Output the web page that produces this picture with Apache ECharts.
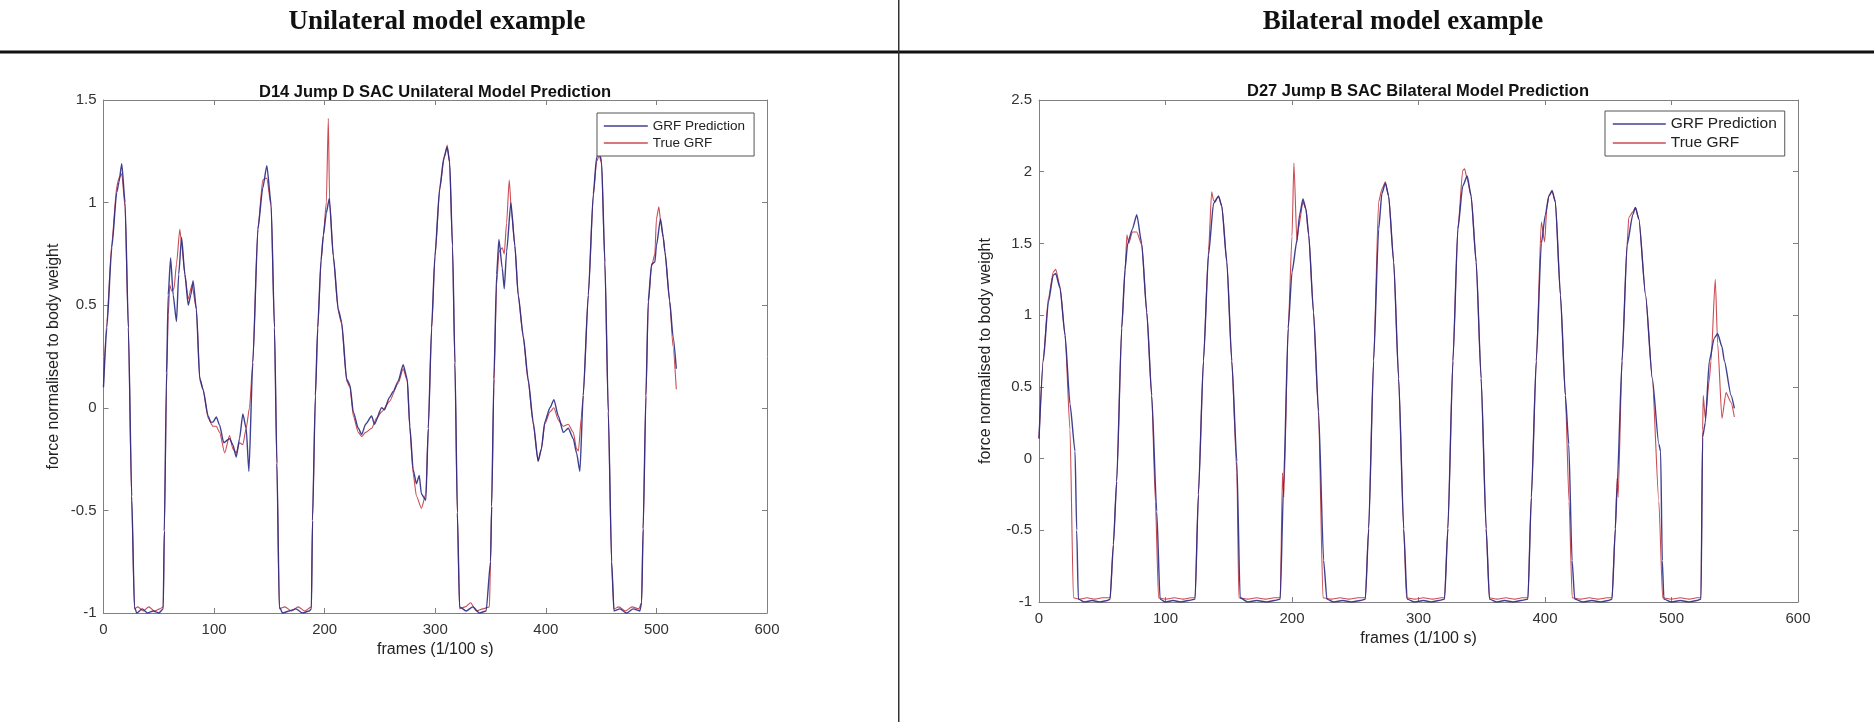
<!DOCTYPE html>
<html lang="en">
<head>
<meta charset="UTF-8">
<title>GRF model prediction examples</title>
<style>
  html, body { margin: 0; padding: 0; background: #fff; }
  #chart { width: 1874px; height: 722px; }
</style>
<script src="https://cdn.jsdelivr.net/npm/echarts@6/dist/echarts.min.js"></script>
</head>
<body>
<div id="chart"></div>
<script>
// [frame, force] pairs
var uniPred = [[0,0.10],[3,0.39],[7.5,0.78],[12,1.05],[14,1.10],[16.5,1.19],[19.5,1.0],[22.5,0.39],[25.5,-0.43],[28,-0.97],[30,-1.0],[35,-0.98],[40,-1.0],[45,-0.99],[50,-1.0],[54,-0.98],[55,-0.6],[57,0.17],[58.5,0.55],[60.7,0.73],[63,0.55],[66,0.42],[68,0.65],[70.6,0.83],[73.6,0.65],[76.6,0.5],[79,0.55],[81,0.62],[84,0.48],[87,0.14],[90,0.09],[94.6,-0.04],[97,-0.07],[99,-0.07],[102,-0.045],[105,-0.085],[108.7,-0.17],[114,-0.15],[117,-0.18],[120,-0.24],[123,-0.15],[126,-0.03],[129,-0.1],[131.5,-0.31],[135,0.22],[139.6,0.87],[144,1.07],[147.7,1.18],[151.6,0.99],[154.6,0.39],[156.8,-0.27],[159,-0.97],[162,-1.0],[168,-0.99],[174,-0.98],[180,-1.0],[186,-0.99],[188,-0.98],[189,-0.55],[191.6,0.06],[193.7,0.39],[196.7,0.72],[198.8,0.84],[201.5,0.95],[204.2,1.02],[207.8,0.74],[212.3,0.48],[215.3,0.42],[219.9,0.14],[222.9,0.11],[225.9,-0.02],[230.4,-0.1],[233.5,-0.13],[237,-0.08],[242.5,-0.04],[245,-0.08],[251.5,0.0],[254,-0.01],[258.5,0.05],[262,0.08],[266.5,0.13],[271,0.21],[274.7,0.14],[277,-0.09],[280,-0.3],[283,-0.37],[285.5,-0.33],[287.5,-0.42],[291.5,-0.45],[293.7,-0.1],[296.7,0.39],[299.7,0.74],[304,1.07],[307.8,1.22],[310.8,1.27],[313,1.2],[315.6,0.79],[317.8,0.22],[320,-0.51],[322,-0.97],[328,-0.99],[334,-0.97],[340,-1.0],[346,-0.99],[350,-0.75],[351,-0.48],[353,0.14],[355.5,0.65],[357.6,0.82],[360.6,0.68],[362.4,0.58],[364.5,0.76],[368.4,1.0],[372,0.79],[375,0.55],[379.6,0.35],[384,0.14],[388.6,-0.07],[393,-0.26],[396,-0.2],[399,-0.07],[403.7,0.0],[407.3,0.04],[411.3,-0.04],[415.8,-0.12],[420.3,-0.1],[424.8,-0.15],[427.8,-0.22],[430.8,-0.31],[433.8,0.06],[438.4,0.55],[442.9,1.04],[445.9,1.22],[448.3,1.25],[450.4,1.2],[453.4,0.71],[456.5,-0.02],[459.5,-0.75],[461.6,-0.99],[467,-0.98],[473,-1.0],[479,-0.98],[485,-0.99],[486.6,-0.95],[488,-0.59],[490.5,0.06],[492.6,0.52],[495.6,0.70],[498.6,0.71],[500,0.79],[503.7,0.92],[506.2,0.83],[507.7,0.76],[512,0.52],[515,0.35],[518,0.19]];

var uniTrue = [[0,0.12],[3,0.42],[7.5,0.8],[12,1.08],[14,1.12],[16.5,1.14],[19.5,0.98],[22.5,0.38],[25.5,-0.45],[28,-0.98],[31,-0.97],[36,-0.99],[41,-0.97],[46,-0.99],[51,-0.98],[54,-0.97],[55,-0.6],[57,0.1],[58.5,0.45],[60,0.6],[61.5,0.57],[63.7,0.58],[66,0.7],[69,0.87],[70.6,0.8],[73.6,0.65],[76.6,0.53],[80,0.6],[84,0.48],[87,0.15],[90,0.09],[94.6,-0.05],[99,-0.09],[102,-0.09],[105,-0.12],[109.6,-0.22],[114,-0.135],[117,-0.2],[120,-0.22],[123,-0.17],[126,-0.18],[129,-0.1],[132,0.0],[135,0.22],[139.6,0.87],[144,1.11],[147.7,1.12],[151.6,0.98],[154.6,0.39],[156.8,-0.28],[159,-0.98],[164,-0.97],[170,-0.99],[176,-0.97],[182,-0.99],[188,-0.97],[189,-0.55],[191.6,0.05],[193.7,0.38],[196.7,0.71],[198.8,0.84],[201.5,1.0],[203.3,1.41],[204.5,1.0],[207.8,0.74],[212.3,0.47],[215.3,0.41],[219.9,0.13],[222.9,0.1],[225.9,-0.04],[230.4,-0.12],[233.5,-0.14],[237,-0.12],[242.5,-0.1],[247,-0.05],[251.5,-0.02],[258.5,0.03],[266.5,0.12],[271,0.19],[274.7,0.13],[277,-0.1],[280,-0.32],[283,-0.43],[287.5,-0.49],[291.5,-0.42],[293.7,-0.1],[296.7,0.38],[299.7,0.73],[304,1.06],[307.8,1.21],[310.8,1.28],[313,1.19],[315.6,0.78],[317.8,0.21],[320,-0.52],[322,-0.98],[327,-0.97],[332,-0.95],[337,-0.99],[343,-0.98],[349,-0.97],[350,-0.75],[351,-0.48],[353,0.1],[355.5,0.6],[357.6,0.76],[360.6,0.78],[362.4,0.75],[364.5,0.9],[366.9,1.11],[369,0.95],[372,0.79],[375,0.55],[379.6,0.34],[384,0.13],[388.6,-0.08],[393,-0.26],[396,-0.2],[399,-0.08],[403.7,-0.02],[407.3,0.0],[411.3,-0.06],[415.8,-0.09],[420.3,-0.08],[424.8,-0.12],[427.8,-0.2],[429.5,-0.21],[432,-0.05],[433.8,0.06],[438.4,0.55],[442.9,1.03],[445.9,1.2],[448.3,1.23],[450.4,1.19],[453.4,0.7],[456.5,-0.03],[459.5,-0.76],[461.6,-0.98],[466,-0.97],[472,-0.99],[478,-0.97],[484,-0.98],[486.6,-0.95],[488,-0.59],[490.5,0.05],[492.6,0.5],[495.6,0.69],[498.6,0.75],[500,0.92],[502.2,0.98],[504,0.9],[506.2,0.83],[507.7,0.76],[512,0.52],[515,0.3],[518,0.09]];

var biPred = [[0,0.14],[3.4,0.68],[7.4,1.09],[11.3,1.28],[13.2,1.29],[16.6,1.19],[20.6,0.86],[24.5,0.38],[28.5,0.05],[29.8,-0.5],[31.1,-0.98],[36,-1.0],[42,-0.99],[48,-1.0],[54,-0.99],[56.2,-0.98],[58.8,-0.6],[61.4,-0.16],[65.4,0.91],[68,1.32],[70.1,1.5],[73.8,1.6],[77.3,1.70],[81.2,1.5],[85.2,1.02],[89.1,0.44],[93.1,-0.37],[95.7,-0.98],[100,-1.0],[106,-0.99],[112,-1.0],[118,-0.99],[123.4,-0.98],[126,-0.25],[130,0.68],[134,1.42],[138,1.78],[141.9,1.83],[144.5,1.76],[148.5,1.37],[152.4,0.68],[156.4,-0.02],[159,-0.97],[165,-1.0],[172,-0.99],[180,-1.0],[186,-0.99],[190.7,-0.98],[193.3,-0.2],[197,0.91],[200,1.3],[203.9,1.52],[206,1.7],[208.7,1.81],[211,1.74],[213.2,1.56],[217,1.02],[221,0.33],[225,-0.71],[227.6,-0.98],[233,-1.0],[240,-0.99],[247,-1.0],[254,-0.99],[258,-0.98],[260.6,-0.49],[264.5,0.68],[268.5,1.6],[271.1,1.85],[273.8,1.92],[276.4,1.83],[280.4,1.37],[284.3,0.56],[288.3,-0.49],[291,-0.98],[297,-1.0],[304,-0.99],[310,-1.0],[316,-0.99],[320.6,-0.98],[323.2,-0.49],[327.2,0.68],[331.1,1.6],[335,1.9],[338.5,1.97],[341.6,1.83],[345.6,1.37],[349.5,0.56],[353.5,-0.49],[356.1,-0.98],[362,-1.0],[368,-0.99],[375,-1.0],[381,-0.99],[386.5,-0.98],[389.2,-0.27],[393.1,0.68],[397.1,1.5],[400.3,1.7],[403,1.83],[405.6,1.87],[408.2,1.79],[412.2,1.14],[416.1,0.44],[418.8,0.1],[421.4,-0.71],[423.5,-0.98],[430,-1.0],[437,-0.99],[444,-1.0],[450,-0.99],[453,-0.98],[455.6,-0.49],[457,-0.2],[460.9,0.68],[464.9,1.49],[469.4,1.7],[471.5,1.75],[474.2,1.67],[479.5,1.14],[484.8,0.56],[490,0.1],[491.4,0.05],[492.7,-0.71],[494,-0.98],[500,-1.0],[507,-0.99],[514,-1.0],[520,-0.99],[523.3,-0.98],[524.6,0.15],[526.7,0.25],[529.9,0.68],[533.8,0.84],[536.5,0.87],[539.9,0.78],[541.8,0.68],[547.1,0.44],[549.7,0.35]];

var biTrue = [[0,0.14],[3.4,0.7],[7.4,1.12],[11.3,1.3],[13.2,1.32],[16.6,1.2],[20.6,0.86],[24.5,0.2],[27.2,-0.97],[32,-0.98],[38,-0.97],[44,-0.98],[50,-0.97],[56.2,-0.97],[58.8,-0.6],[61.4,-0.16],[65.4,0.91],[68,1.3],[69.5,1.56],[71,1.5],[73.8,1.58],[77.3,1.58],[81.2,1.49],[85.2,1.02],[89.1,0.44],[92,-0.3],[94.5,-0.97],[100,-0.98],[107,-0.97],[114,-0.98],[120,-0.97],[123.4,-0.97],[126,-0.25],[130,0.68],[134,1.45],[136.5,1.86],[138,1.8],[139.2,1.79],[141.9,1.83],[144.5,1.76],[148.5,1.37],[152.4,0.68],[156.4,-0.1],[158,-0.97],[165,-0.98],[172,-0.97],[179,-0.98],[186,-0.97],[190.7,-0.97],[192.5,-0.1],[193.5,-0.27],[197,0.91],[200,1.55],[201.5,2.06],[203.9,1.51],[205,1.6],[208.7,1.79],[211,1.74],[213.2,1.56],[217,1.02],[221,0.3],[224.5,-0.97],[231,-0.98],[238,-0.97],[245,-0.98],[252,-0.97],[258,-0.97],[260.6,-0.49],[264.5,0.68],[268.5,1.79],[271.1,1.88],[273.8,1.93],[276.4,1.83],[280.4,1.37],[284.3,0.56],[288.3,-0.49],[290.5,-0.97],[297,-0.98],[304,-0.97],[311,-0.98],[318,-0.97],[320.6,-0.97],[323.2,-0.49],[327.2,0.68],[331.1,1.6],[335,2.01],[336.4,2.02],[338.5,1.95],[341.6,1.83],[345.6,1.37],[349.5,0.56],[353.5,-0.49],[356,-0.97],[362,-0.98],[369,-0.97],[376,-0.98],[382,-0.97],[386.5,-0.97],[389.2,-0.27],[393.1,0.68],[397.1,1.65],[399.7,1.51],[401.5,1.75],[403,1.83],[405.6,1.86],[408.2,1.79],[412.2,1.14],[416.1,0.44],[419,-0.3],[421.5,-0.97],[428,-0.98],[435,-0.97],[442,-0.98],[449,-0.97],[453,-0.97],[455.6,-0.49],[457,-0.14],[457.8,-0.27],[460.9,0.68],[464.9,1.49],[466.2,1.68],[469.4,1.72],[471.5,1.75],[474.2,1.67],[479.5,1.14],[484.8,0.56],[490,-0.3],[493,-0.97],[500,-0.98],[507,-0.97],[514,-0.98],[520,-0.97],[523.3,-0.97],[524.6,0.2],[525.1,0.44],[526.7,0.28],[529.9,0.55],[531.2,0.68],[534.6,1.25],[536.5,0.80],[539.9,0.28],[543.1,0.46],[547.1,0.39],[549.7,0.29]];

var seriesNames = ['GRF Prediction', 'True GRF'];
var panelTitles = ['D14 Jump D SAC Unilateral Model Prediction', 'D27 Jump B SAC Bilateral Model Prediction'];
var headers = ['Unilateral model example', 'Bilateral model example'];
var xLabel = 'frames (1/100 s)';
var yLabel = 'force normalised to body weight';

var predColor = '#2b2b85';
var trueColor = '#c4373f';
var boxColor = '#808080';
var sans = 'Liberation Sans, Arial, sans-serif';

var myChart = echarts.init(document.getElementById('chart'));

// bottom/top x axes, left/right y axes -> matlab style box with inward ticks
function xAx(gi, pos, main) {
  return {
    type: 'value', gridIndex: gi, position: pos, min: 0, max: 600, interval: 100,
    axisLine: { show: true, onZero: false, lineStyle: { color: boxColor, width: 1 } },
    axisTick: { show: true, inside: true, length: 5, lineStyle: { color: boxColor } },
    axisLabel: { show: main, color: '#333', fontSize: 15, margin: 9, fontFamily: sans },
    splitLine: { show: false },
    name: main ? xLabel : '', nameLocation: 'middle', nameGap: 29,
    nameTextStyle: { color: '#222', fontSize: 16, fontFamily: sans }
  };
}
function yAx(gi, pos, max, main, gap) {
  return {
    type: 'value', gridIndex: gi, position: pos, min: -1, max: max, interval: 0.5,
    axisLine: { show: true, onZero: false, lineStyle: { color: boxColor, width: 1 } },
    axisTick: { show: true, inside: true, length: 5, lineStyle: { color: boxColor } },
    axisLabel: { show: main, color: '#333', fontSize: 15, margin: 7, fontFamily: sans },
    splitLine: { show: false },
    name: main ? yLabel : '', nameLocation: 'middle', nameGap: gap,
    nameTextStyle: { color: '#222', fontSize: 16, fontFamily: sans }
  };
}
function line(name, data, xi, yi, color, width, z) {
  return {
    name: name, type: 'line', xAxisIndex: xi, yAxisIndex: yi, data: data,
    symbol: 'none', smooth: 0.2, smoothMonotone: 'x', z: z,
    lineStyle: { color: color, width: width, opacity: 0.9 },
    itemStyle: { color: color }
  };
}
function legendAt(left, top, lineLen, fs, pad) {
  return {
    data: seriesNames, orient: 'vertical', left: left, top: top,
    itemWidth: lineLen, itemHeight: 2, itemGap: 3, padding: pad,
    itemStyle: { opacity: 0 },
    lineStyle: { width: 1.6 },
    borderColor: '#555', borderWidth: 1, backgroundColor: '#fff',
    selectedMode: false, z: 10,
    textStyle: { fontSize: fs, color: '#222', lineHeight: 14, fontFamily: sans }
  };
}

option = {
  backgroundColor: '#fff',
  animation: false,
  grid: [
    { left: 103.5, top: 100, width: 663.5, height: 513 },
    { left: 1039, top: 100, width: 759, height: 502 }
  ],
  xAxis: [xAx(0, 'bottom', true), xAx(0, 'top', false), xAx(1, 'bottom', true), xAx(1, 'top', false)],
  yAxis: [yAx(0, 'left', 1.5, true, 42), yAx(0, 'right', 1.5, false, 0),
          yAx(1, 'left', 2.5, true, 45), yAx(1, 'right', 2.5, false, 0)],
  legend: [
    legendAt(597, 113, 44, 13.5, [6, 9, 6, 6]),
    legendAt(1605, 111, 53, 15.5, [5, 8, 5, 7])
  ],
  series: [
    line(seriesNames[0], uniPred, 0, 0, predColor, 1.4, 4),
    line(seriesNames[1], uniTrue, 0, 0, trueColor, 1.1, 3),
    line(seriesNames[0], biPred, 2, 2, predColor, 1.4, 4),
    line(seriesNames[1], biTrue, 2, 2, trueColor, 1.1, 3)
  ],
  graphic: [
    // header rule and column divider
    { type: 'rect', left: 0, top: 50.5, shape: { width: 1874, height: 3 }, style: { fill: '#111' } },
    { type: 'rect', left: 898, top: 0, shape: { width: 1.5, height: 722 }, style: { fill: '#333' } },
    { type: 'text', x: 437, y: 22, style: { text: headers[0], align: 'center', verticalAlign: 'middle',
      font: 'bold 27px "Liberation Serif", "Times New Roman", serif', fill: '#111' } },
    { type: 'text', x: 1403, y: 22, style: { text: headers[1], align: 'center', verticalAlign: 'middle',
      font: 'bold 27px "Liberation Serif", "Times New Roman", serif', fill: '#111' } },
    { type: 'text', x: 435, y: 92, style: { text: panelTitles[0], align: 'center', verticalAlign: 'middle',
      font: 'bold 16.5px "Liberation Sans", Arial, sans-serif', fill: '#111' } },
    { type: 'text', x: 1418, y: 91, style: { text: panelTitles[1], align: 'center', verticalAlign: 'middle',
      font: 'bold 16.5px "Liberation Sans", Arial, sans-serif', fill: '#111' } }
  ]
};

myChart.setOption(option);
</script>
</body>
</html>
